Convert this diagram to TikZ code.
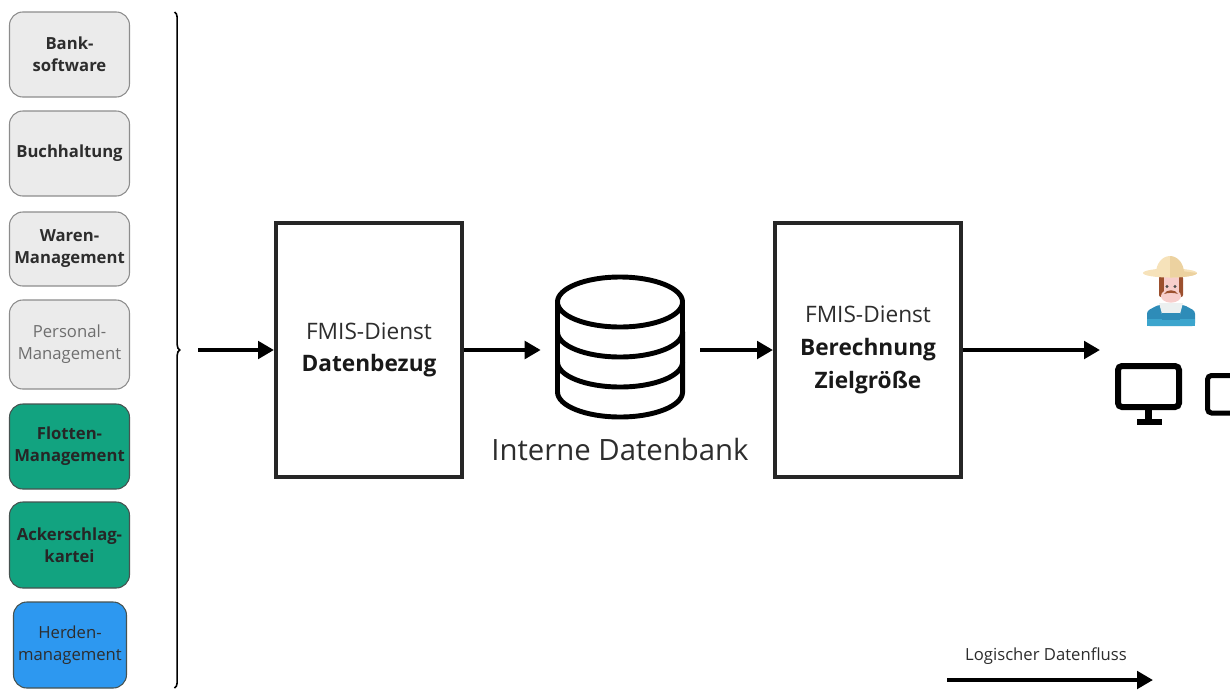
\documentclass[tikz,border=0pt]{standalone}
\usepackage{fontspec}
\setmainfont{Open Sans}
\usetikzlibrary{positioning,arrows.meta,decorations.pathreplacing}

\definecolor{srcgrey}{RGB}{235,235,235}
\definecolor{srcedge}{RGB}{140,140,140}
\definecolor{fleetgreen}{RGB}{18,163,128}
\definecolor{herdblue}{RGB}{45,152,240}
\definecolor{darkedge}{RGB}{70,82,80}
\definecolor{textdark}{RGB}{45,45,45}
\definecolor{textgrey}{RGB}{110,110,110}
\definecolor{hatlight}{RGB}{246,226,186}
\definecolor{hatdark}{RGB}{236,210,160}
\definecolor{skin}{RGB}{247,206,204}
\definecolor{hair}{RGB}{156,80,46}
\definecolor{overall}{RGB}{46,140,184}
\definecolor{overalllight}{RGB}{60,165,205}
\definecolor{shirt}{RGB}{236,240,240}

\begin{document}
\begin{tikzpicture}[x=0.75pt, y=-0.75pt]
  \tikzstyle{source}=[rectangle, rounded corners=10pt, draw=srcedge, fill=srcgrey, line width=0.8pt, minimum width=90pt, minimum height=63.75pt, align=center, text=textdark, font=\fontsize{12.5}{16.5}\selectfont\bfseries]
  \tikzstyle{fleet}=[source, fill=fleetgreen, draw=darkedge, text=black!85]
  \tikzstyle{herd}=[source, fill=herdblue, draw=darkedge, minimum width=84.75pt, font=\fontsize{12.5}{16.5}\selectfont]
  \tikzstyle{service}=[rectangle, draw=black!85, line width=3pt, minimum width=139.5pt, minimum height=190pt, align=center, text=textdark, font=\fontsize{17}{24.5}\selectfont]
  \tikzstyle{flow}=[draw, line width=3pt, -{Triangle[length=12pt,width=13pt]}]
  \tikzstyle{icon}=[line width=3.7pt, line join=round]

  \useasboundingbox (0,0) rectangle (1230,689);

  % source systems on the left
  \node [source] (bank) at (69.5,54.5) {Bank-\\software};
  \node [source] (books) at (69.5,153.5) {Buchhaltung};
  \node [source, minimum height=55.5pt] (goods) at (69.5,249) {Waren-\\Management};
  \node [source, minimum height=66.75pt, text=textgrey, font=\fontsize{12.5}{16.5}\selectfont] (staff) at (69.5,344.5) {Personal-\\Management};
  \node [fleet] (fleet) at (69.5,446.5) {Flotten-\\Management};
  \node [fleet, minimum height=64.5pt] (fields) at (69.5,545) {Ackerschlag-\\kartei};
  \node [herd, minimum height=64.5pt] (herd) at (70,645) {Herden-\\management};

  \draw [line width=1.2pt, decorate, decoration={brace, amplitude=4pt}] (174.5,12) -- (174.5,688);
  \coordinate (in) at (198,350);

  % services and database
  \node [service] (fetch) at (369,350) {FMIS-Dienst\\\textbf{\color{black!90}Datenbezug}};
  \node [minimum width=119.25pt, minimum height=105pt] (db) at (620.5,350) {};
  \node [service] (calc) at (868,350) {FMIS-Dienst\\\textbf{\color{black!90}Berechnung}\\\textbf{\color{black!90}Zielgröße}};
  \node [text=textdark, font=\fontsize{22}{26}\selectfont] (dblabel) at (620,449) {Interne Datenbank};
  \coordinate (user) at (1100,350);

  \begin{scope}[shift={(620,347)}]
    \draw [icon] (0,-45) ellipse [x radius=46.9pt, y radius=18.75pt];
    \draw [icon] (-62.5,-45) -- (-62.5,45) arc [start angle=180, end angle=360, x radius=46.9pt, y radius=18.75pt] -- (62.5,-45);
    \draw [icon] (-62.5,-15) arc [start angle=180, end angle=360, x radius=46.9pt, y radius=18.75pt];
    \draw [icon] (-62.5,15) arc [start angle=180, end angle=360, x radius=46.9pt, y radius=18.75pt];
  \end{scope}

  \draw [flow] (in) -- (fetch);
  \draw [flow] (fetch) -- (db);
  \draw [flow] (db) -- (calc);
  \draw [flow] (calc) -- (user);

  % farmer
  \fill [overall, rounded corners=2pt] (1147,326) -- (1147,311) -- (1158,305) -- (1184,305) -- (1195,311) -- (1195,326) -- cycle;
  \fill [overalllight] (1147,319) rectangle (1195,326);
  \fill [shirt] (1159,303) -- (1183,303) -- (1180,314) -- (1162,314) -- cycle;
  \fill [overall] (1162,313) rectangle (1180,320);
  \fill [hair, rounded corners=1.5pt] (1159,276) rectangle (1183,297);
  \fill [skin] (1163.5,274) rectangle (1178.5,298);
  \fill [skin] (1171,296) ellipse [x radius=7.5pt, y radius=5pt];
  \fill [hair] (1164,294) .. controls (1167,289) and (1175,289) .. (1178,294) .. controls (1174,292.5) and (1168,292.5) .. cycle;
  \fill [black!70] (1167,286.5) circle (1.2pt) (1175,286.5) circle (1.2pt);
  \fill [hatlight] (1170,273) ellipse [x radius=20.25pt, y radius=3.4pt];
  \fill [hatlight] (1156,273) arc [start angle=180, end angle=90, x radius=10.5pt, y radius=12.75pt] -- (1170,273) -- cycle;
  \fill [hatdark] (1170,256) arc [start angle=90, end angle=0, x radius=10.5pt, y radius=12.75pt] -- (1170,273) -- cycle;
  \fill [hatdark] (1170,269.6) -- (1197,273) arc [start angle=0, end angle=-90, x radius=20.25pt, y radius=3.4pt] -- cycle;

  % screen and tablet
  \draw [line width=4.5pt, rounded corners=3pt] (1118,366) rectangle (1179,407);
  \fill (1145,409) rectangle (1152,420);
  \fill (1137,419) rectangle (1162,425);
  \begin{scope}
    \clip (1190,360) rectangle (1230,430);
    \draw [line width=3.75pt, rounded corners=3pt] (1207.5,375.5) rectangle (1245,413);
  \end{scope}

  % legend
  \node [text=textdark, font=\fontsize{12.5}{15}\selectfont] (legend) at (1046,656) {Logischer Datenfluss};
  \coordinate (legend start) at (947,680);
  \coordinate (legend end) at (1153,680);
  \draw [flow] (legend start) -- (legend end);
\end{tikzpicture}
\end{document}
